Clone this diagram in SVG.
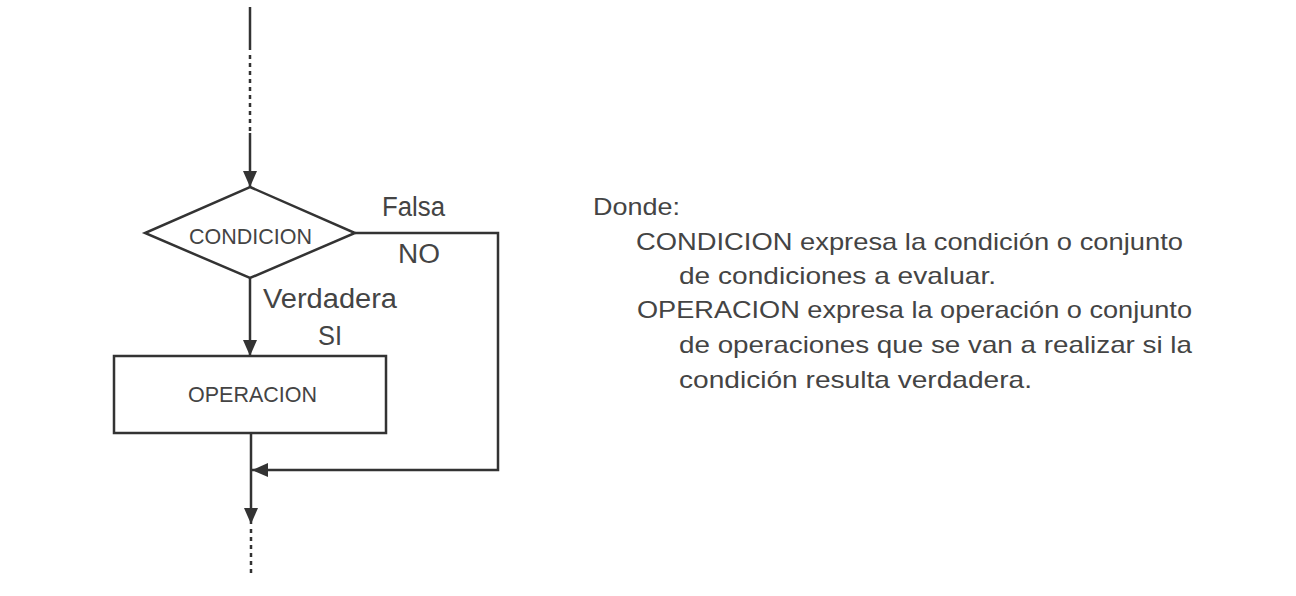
<svg xmlns="http://www.w3.org/2000/svg" width="1296" height="596" viewBox="0 0 1296 596">
<style>
.ln{fill:none;stroke:#333;stroke-width:2.5}
.dot{fill:none;stroke:#333;stroke-width:2.5;stroke-dasharray:4 4}
.sh{fill:#fff;stroke:#333;stroke-width:2.5}
text{font-family:"Liberation Sans",Arial,sans-serif;fill:#444}
.lbl{font-size:27px}
.in{font-size:22px}
.tx{font-size:24px}
</style>
<defs>
<marker id="ah" viewBox="0 0 16 14" refX="16" refY="7" markerWidth="16" markerHeight="14" markerUnits="userSpaceOnUse" orient="auto">
<path d="M0,0 L16,7 L0,14 z" fill="#333"/>
</marker>
</defs>
<rect width="1296" height="596" fill="#fff"/>
<g id="connectors">
<line class="ln" x1="250" y1="7" x2="250" y2="50"/>
<line class="dot" x1="250" y1="55" x2="250" y2="133"/>
<line class="ln" x1="250" y1="133" x2="250" y2="187" marker-end="url(#ah)"/>
<line class="ln" x1="250" y1="278" x2="250" y2="356" marker-end="url(#ah)"/>
<polyline class="ln" points="355,233 498,233 498,470 252,470" marker-end="url(#ah)"/>
<line class="ln" x1="251" y1="433" x2="251" y2="524" marker-end="url(#ah)"/>
<line class="dot" x1="251" y1="529" x2="251" y2="577"/>
</g>
<g id="condicion">
<polygon class="sh" points="250,187 355,233 250,278 145,233"/>
<text class="in" x="189" y="244" textLength="123" lengthAdjust="spacingAndGlyphs">CONDICION</text>
</g>
<g id="operacion">
<rect class="sh" x="114" y="356" width="272" height="77"/>
<text class="in" x="188" y="402" textLength="129" lengthAdjust="spacingAndGlyphs">OPERACION</text>
</g>
<g id="labels">
<text class="lbl" x="382" y="216" textLength="63" lengthAdjust="spacingAndGlyphs">Falsa</text>
<text class="lbl" x="398" y="263" textLength="42" lengthAdjust="spacingAndGlyphs">NO</text>
<text class="lbl" x="263" y="308" textLength="134" lengthAdjust="spacingAndGlyphs">Verdadera</text>
<text class="lbl" x="318" y="345" textLength="24" lengthAdjust="spacingAndGlyphs">SI</text>
</g>
<g id="descripcion">
<text class="tx" x="593" y="215" textLength="87" lengthAdjust="spacingAndGlyphs">Donde:</text>
<text class="tx" x="636" y="250" textLength="547" lengthAdjust="spacingAndGlyphs">CONDICION expresa la condición o conjunto</text>
<text class="tx" x="679" y="284" textLength="317" lengthAdjust="spacingAndGlyphs">de condiciones a evaluar.</text>
<text class="tx" x="637" y="318" textLength="555" lengthAdjust="spacingAndGlyphs">OPERACION expresa la operación o conjunto</text>
<text class="tx" x="679" y="353" textLength="513" lengthAdjust="spacingAndGlyphs">de operaciones que se van a realizar si la</text>
<text class="tx" x="679" y="388" textLength="353" lengthAdjust="spacingAndGlyphs">condición resulta verdadera.</text>
</g>
</svg>
